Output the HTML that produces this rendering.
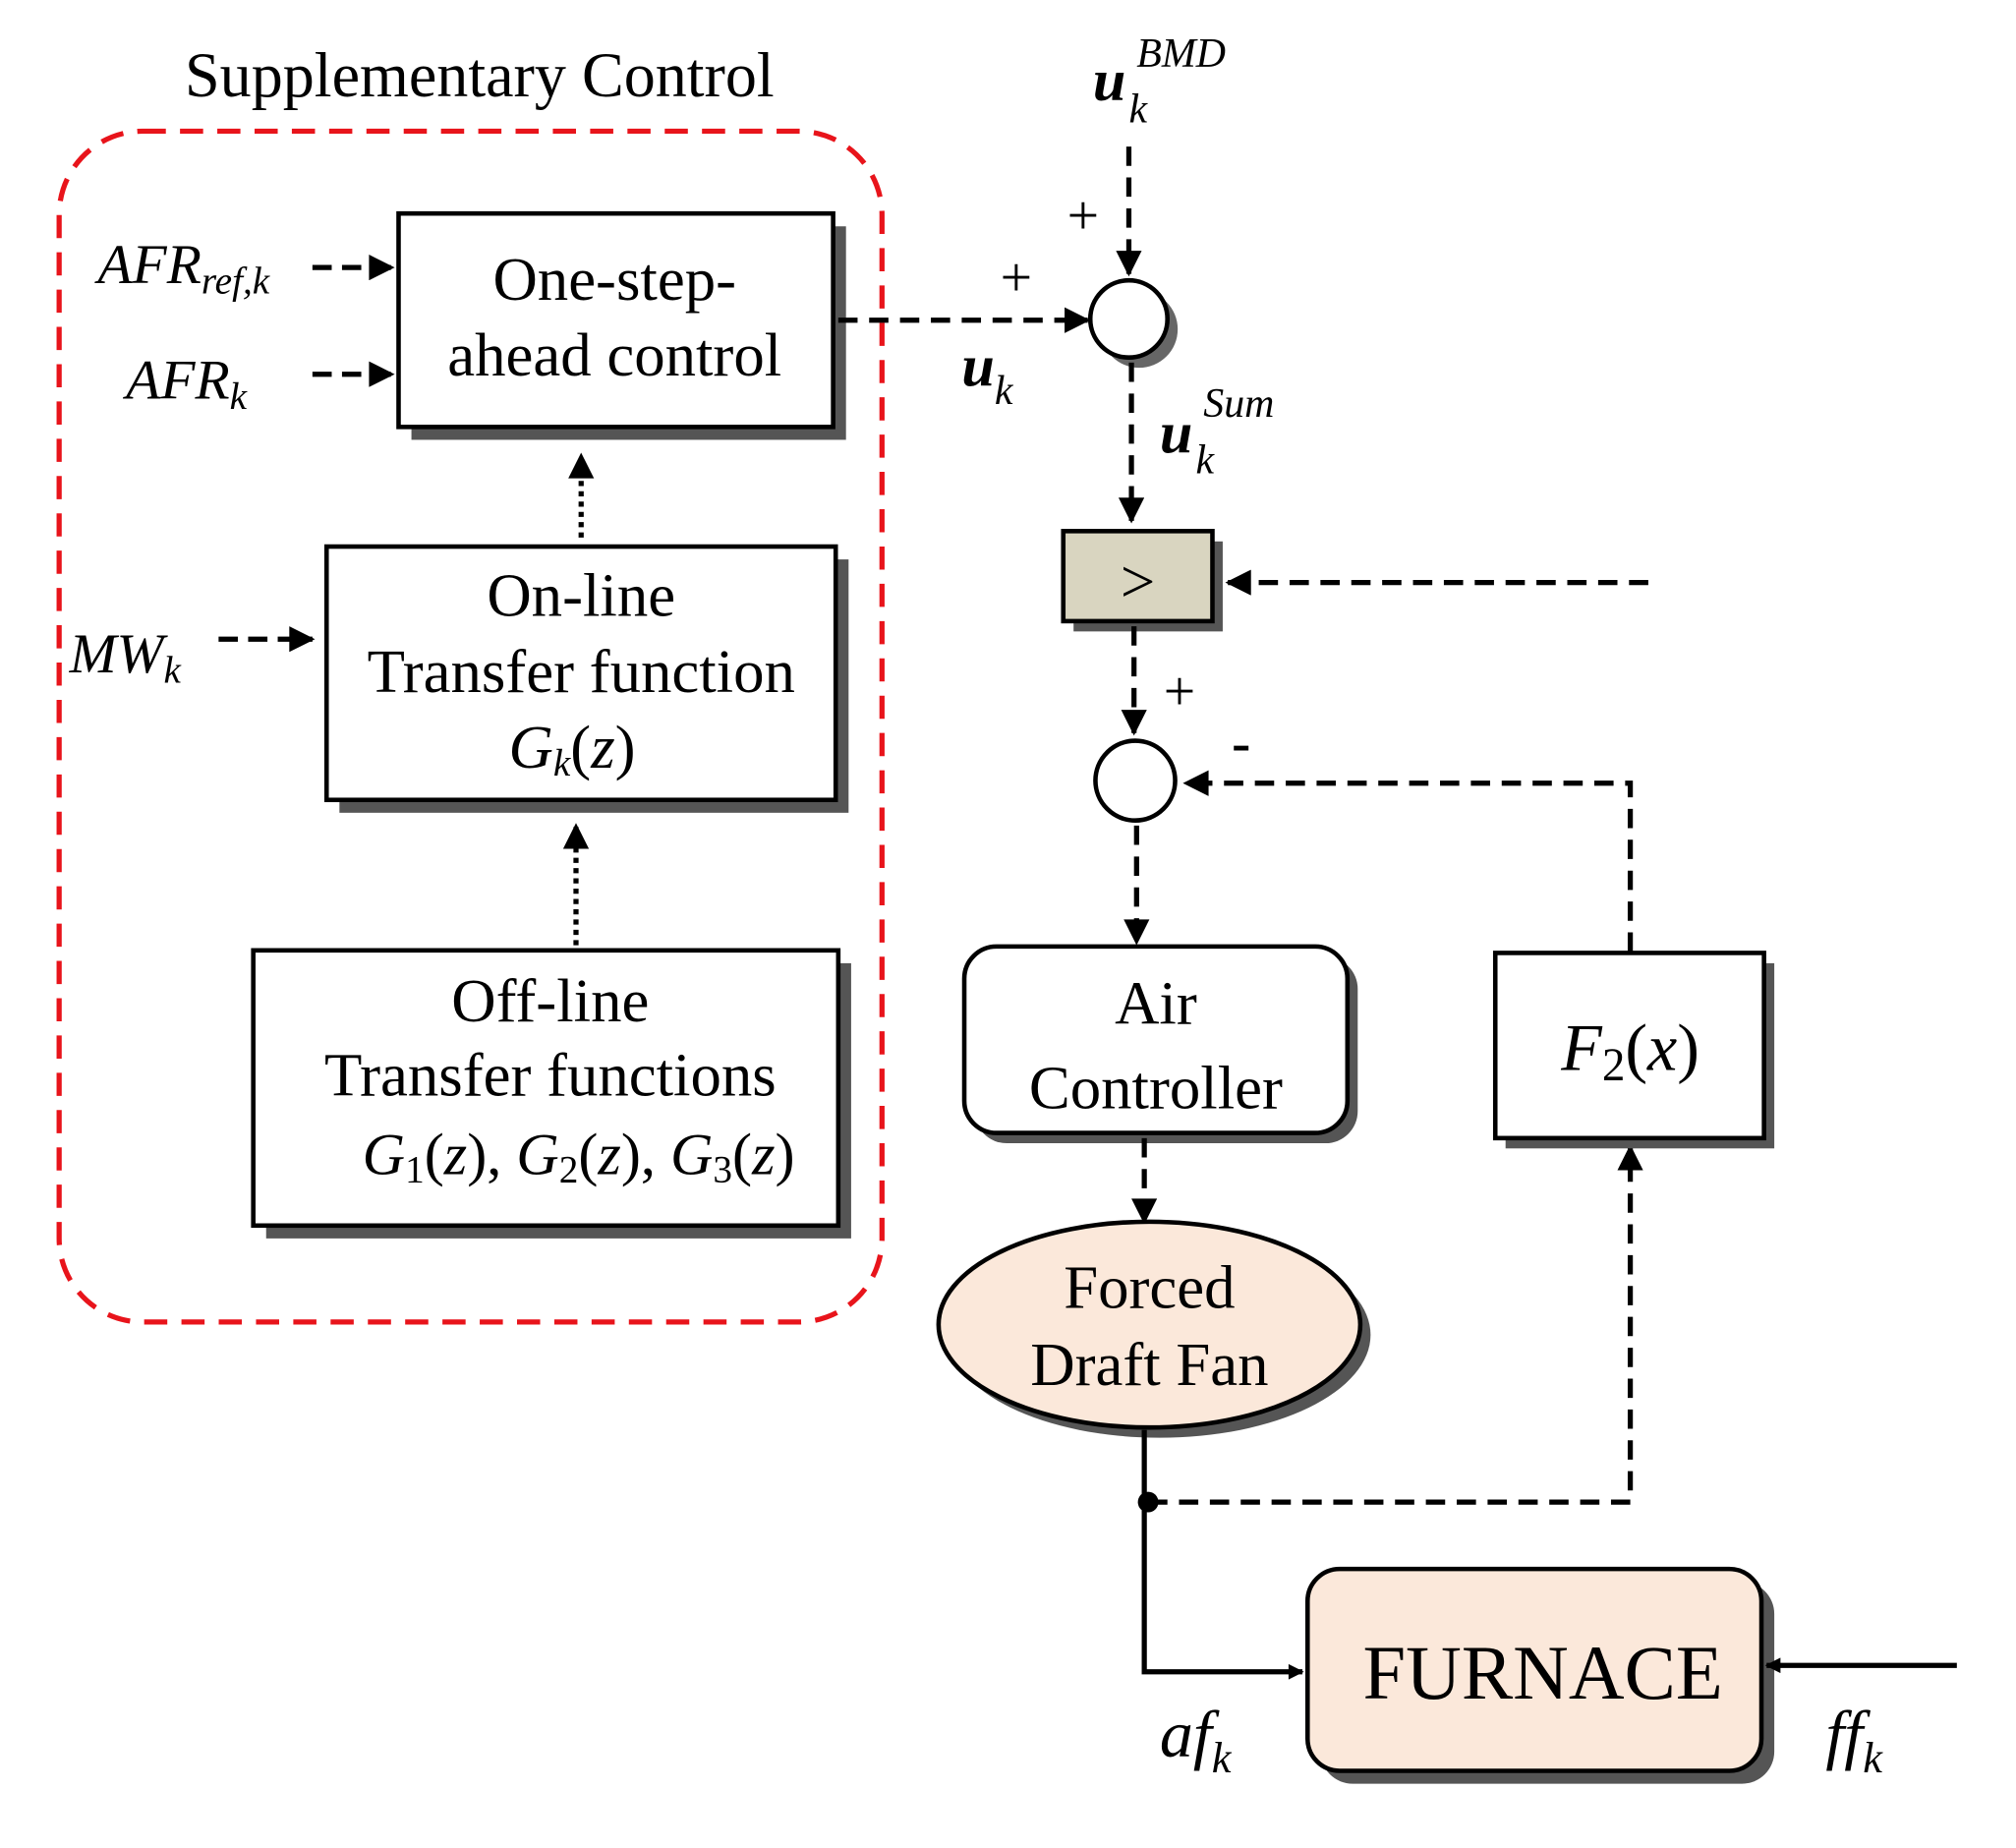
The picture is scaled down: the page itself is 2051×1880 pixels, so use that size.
<!DOCTYPE html>
<html><head><meta charset="utf-8"><style>
html,body{margin:0;padding:0;background:#fff;}
svg{display:block;}
text{font-family:"Liberation Serif",serif;fill:#000;}
</style></head><body>
<svg width="2051" height="1880" viewBox="0 0 1568 1437" preserveAspectRatio="none" xmlns="http://www.w3.org/2000/svg">
<defs>
<marker id="a" viewBox="0 0 10 10" refX="9" refY="5" markerWidth="5.5" markerHeight="5" orient="auto"><path d="M0,0 L10,5 L0,10 z" fill="#000"/></marker>
<marker id="b" viewBox="0 0 10 10" refX="9" refY="5" markerWidth="6" markerHeight="3" orient="auto"><path d="M0,0 L10,5 L0,10 z" fill="#000"/></marker>
</defs>
<text x="373" y="75" font-size="49" text-anchor="middle">Supplementary Control</text>
<rect x="46" y="102" width="640" height="926" rx="65" fill="none" stroke="#e8141b" stroke-width="4" stroke-dasharray="18 11"/>

<rect x="320" y="176" width="338" height="166" fill="#555"/>
<rect x="310" y="166" width="338" height="166" fill="#fff" stroke="#000" stroke-width="3.5"/>
<text x="478" y="233" font-size="48" text-anchor="middle">One-step-</text>
<text x="478" y="292" font-size="48" text-anchor="middle">ahead control</text>
<text x="76" y="220" font-size="44" font-style="italic">AFR<tspan font-size="30" dy="8">ref,k</tspan></text>
<text x="98" y="310" font-size="44" font-style="italic">AFR<tspan font-size="30" dy="8">k</tspan></text>
<line x1="243" y1="208" x2="305" y2="208" stroke="#000" stroke-width="4" stroke-dasharray="15 8" marker-end="url(#a)"/>
<line x1="243" y1="291" x2="305" y2="291" stroke="#000" stroke-width="4" stroke-dasharray="15 8" marker-end="url(#a)"/>

<rect x="264" y="435" width="396" height="197" fill="#555"/>
<rect x="254" y="425" width="396" height="197" fill="#fff" stroke="#000" stroke-width="3.5"/>
<text x="452" y="479" font-size="48" text-anchor="middle">On-line</text>
<text x="452" y="538" font-size="48" text-anchor="middle">Transfer function</text>
<text x="445" y="597" font-size="48" text-anchor="middle" font-style="italic">G<tspan font-size="30" dy="6">k</tspan><tspan dy="-6" font-style="normal">(</tspan>z<tspan font-style="normal">)</tspan></text>
<text x="54" y="523" font-size="44" font-style="italic">MW<tspan font-size="30" dy="8">k</tspan></text>
<line x1="170" y1="497" x2="243" y2="497" stroke="#000" stroke-width="4" stroke-dasharray="15 8" marker-end="url(#a)"/>
<line x1="452" y1="418" x2="452" y2="354" stroke="#000" stroke-width="4" stroke-dasharray="4 4" marker-end="url(#a)"/>

<rect x="207" y="749" width="455" height="214" fill="#555"/>
<rect x="197" y="739" width="455" height="214" fill="#fff" stroke="#000" stroke-width="3.5"/>
<text x="428" y="794" font-size="48" text-anchor="middle">Off-line</text>
<text x="428" y="852" font-size="48" text-anchor="middle">Transfer functions</text>
<text x="450" y="913" font-size="46" text-anchor="middle" font-style="italic">G<tspan font-size="30" dy="6" font-style="normal">1</tspan><tspan dy="-6" font-style="normal">(</tspan>z<tspan font-style="normal">), </tspan>G<tspan font-size="30" dy="6" font-style="normal">2</tspan><tspan dy="-6" font-style="normal">(</tspan>z<tspan font-style="normal">), </tspan>G<tspan font-size="30" dy="6" font-style="normal">3</tspan><tspan dy="-6" font-style="normal">(</tspan>z<tspan font-style="normal">)</tspan></text>
<line x1="448" y1="735" x2="448" y2="642" stroke="#000" stroke-width="4" stroke-dasharray="4 4" marker-end="url(#a)"/>

<line x1="652" y1="249" x2="846" y2="249" stroke="#000" stroke-width="4" stroke-dasharray="15 9" marker-end="url(#a)"/>
<text x="778" y="230" font-size="44">+</text>
<text x="748" y="300" font-size="46" font-style="italic" font-weight="bold">u<tspan font-size="32" font-weight="normal" dy="14">k</tspan></text>
<circle cx="886" cy="256" r="30" fill="#666"/>
<circle cx="878" cy="248" r="30" fill="#fff" stroke="#000" stroke-width="3.5"/>
<text x="850" y="78" font-size="46" font-style="italic" font-weight="bold">u</text>
<text x="878" y="95" font-size="32" font-style="italic">k</text>
<text x="884" y="52" font-size="32" font-style="italic">BMD</text>
<line x1="878" y1="114" x2="878" y2="213" stroke="#000" stroke-width="4" stroke-dasharray="15 9" marker-end="url(#a)"/>
<text x="830" y="182" font-size="44">+</text>
<line x1="880" y1="282" x2="880" y2="405" stroke="#000" stroke-width="4" stroke-dasharray="15 9" marker-end="url(#a)"/>
<text x="902" y="352" font-size="46" font-style="italic" font-weight="bold">u</text>
<text x="930" y="368" font-size="32" font-style="italic">k</text>
<text x="936" y="324" font-size="32" font-style="italic">Sum</text>

<rect x="835" y="421" width="116" height="70" fill="#555"/>
<rect x="827" y="413" width="116" height="70" fill="#d9d5c0" stroke="#000" stroke-width="3.5"/>
<text x="885" y="468" font-size="48" text-anchor="middle">&gt;</text>
<line x1="1282" y1="453" x2="955" y2="453" stroke="#000" stroke-width="4" stroke-dasharray="15 9" marker-end="url(#a)"/>
<line x1="882" y1="487" x2="882" y2="570" stroke="#000" stroke-width="4" stroke-dasharray="15 9" marker-end="url(#a)"/>
<text x="905" y="552" font-size="44">+</text>

<circle cx="883" cy="607" r="31" fill="#fff" stroke="#000" stroke-width="3.5"/>
<text x="958" y="592" font-size="44" font-weight="bold">-</text>
<polyline points="1268,740 1268,609 922,609" fill="none" stroke="#000" stroke-width="4" stroke-dasharray="15 9" marker-end="url(#a)"/>
<line x1="884" y1="642" x2="884" y2="733" stroke="#000" stroke-width="4" stroke-dasharray="15 9" marker-end="url(#a)"/>

<rect x="758" y="744" width="298" height="145" rx="25" fill="#555"/>
<rect x="750" y="736" width="298" height="145" rx="25" fill="#fff" stroke="#000" stroke-width="3.5"/>
<text x="899" y="796" font-size="48" text-anchor="middle">Air</text>
<text x="899" y="862" font-size="48" text-anchor="middle">Controller</text>
<line x1="890" y1="885" x2="890" y2="950" stroke="#000" stroke-width="4" stroke-dasharray="15 9" marker-end="url(#a)"/>

<ellipse cx="902" cy="1038" rx="164" ry="80" fill="#555"/>
<ellipse cx="894" cy="1030" rx="164" ry="80" fill="#fbe8da" stroke="#000" stroke-width="3.5"/>
<text x="894" y="1017" font-size="48" text-anchor="middle">Forced</text>
<text x="894" y="1077" font-size="48" text-anchor="middle">Draft Fan</text>

<polyline points="890,1112 890,1300 1013,1300" fill="none" stroke="#000" stroke-width="4" marker-end="url(#b)"/>
<circle cx="893" cy="1168" r="8" fill="#000"/>
<polyline points="893,1168 1268,1168 1268,892" fill="none" stroke="#000" stroke-width="4" stroke-dasharray="15 9" marker-end="url(#a)"/>

<rect x="1171" y="749" width="209" height="144" fill="#555"/>
<rect x="1163" y="741" width="209" height="144" fill="#fff" stroke="#000" stroke-width="3.5"/>
<text x="1268" y="832" font-size="52" text-anchor="middle" font-style="italic">F<tspan font-size="36" dy="8" font-style="normal">2</tspan><tspan dy="-8" font-style="normal">(</tspan>x<tspan font-style="normal">)</tspan></text>

<rect x="1027" y="1230" width="353" height="157" rx="25" fill="#555"/>
<rect x="1017" y="1220" width="353" height="157" rx="25" fill="#fbe8da" stroke="#000" stroke-width="3.5"/>
<text x="1200" y="1321" font-size="60" text-anchor="middle">FURNACE</text>
<line x1="1522" y1="1295" x2="1374" y2="1295" stroke="#000" stroke-width="4" marker-end="url(#b)"/>
<text x="902" y="1366" font-size="52" font-style="italic">af<tspan font-size="34" dy="12">k</tspan></text>
<text x="1420" y="1366" font-size="52" font-style="italic">ff<tspan font-size="34" dy="12">k</tspan></text>
</svg>
</body></html>
